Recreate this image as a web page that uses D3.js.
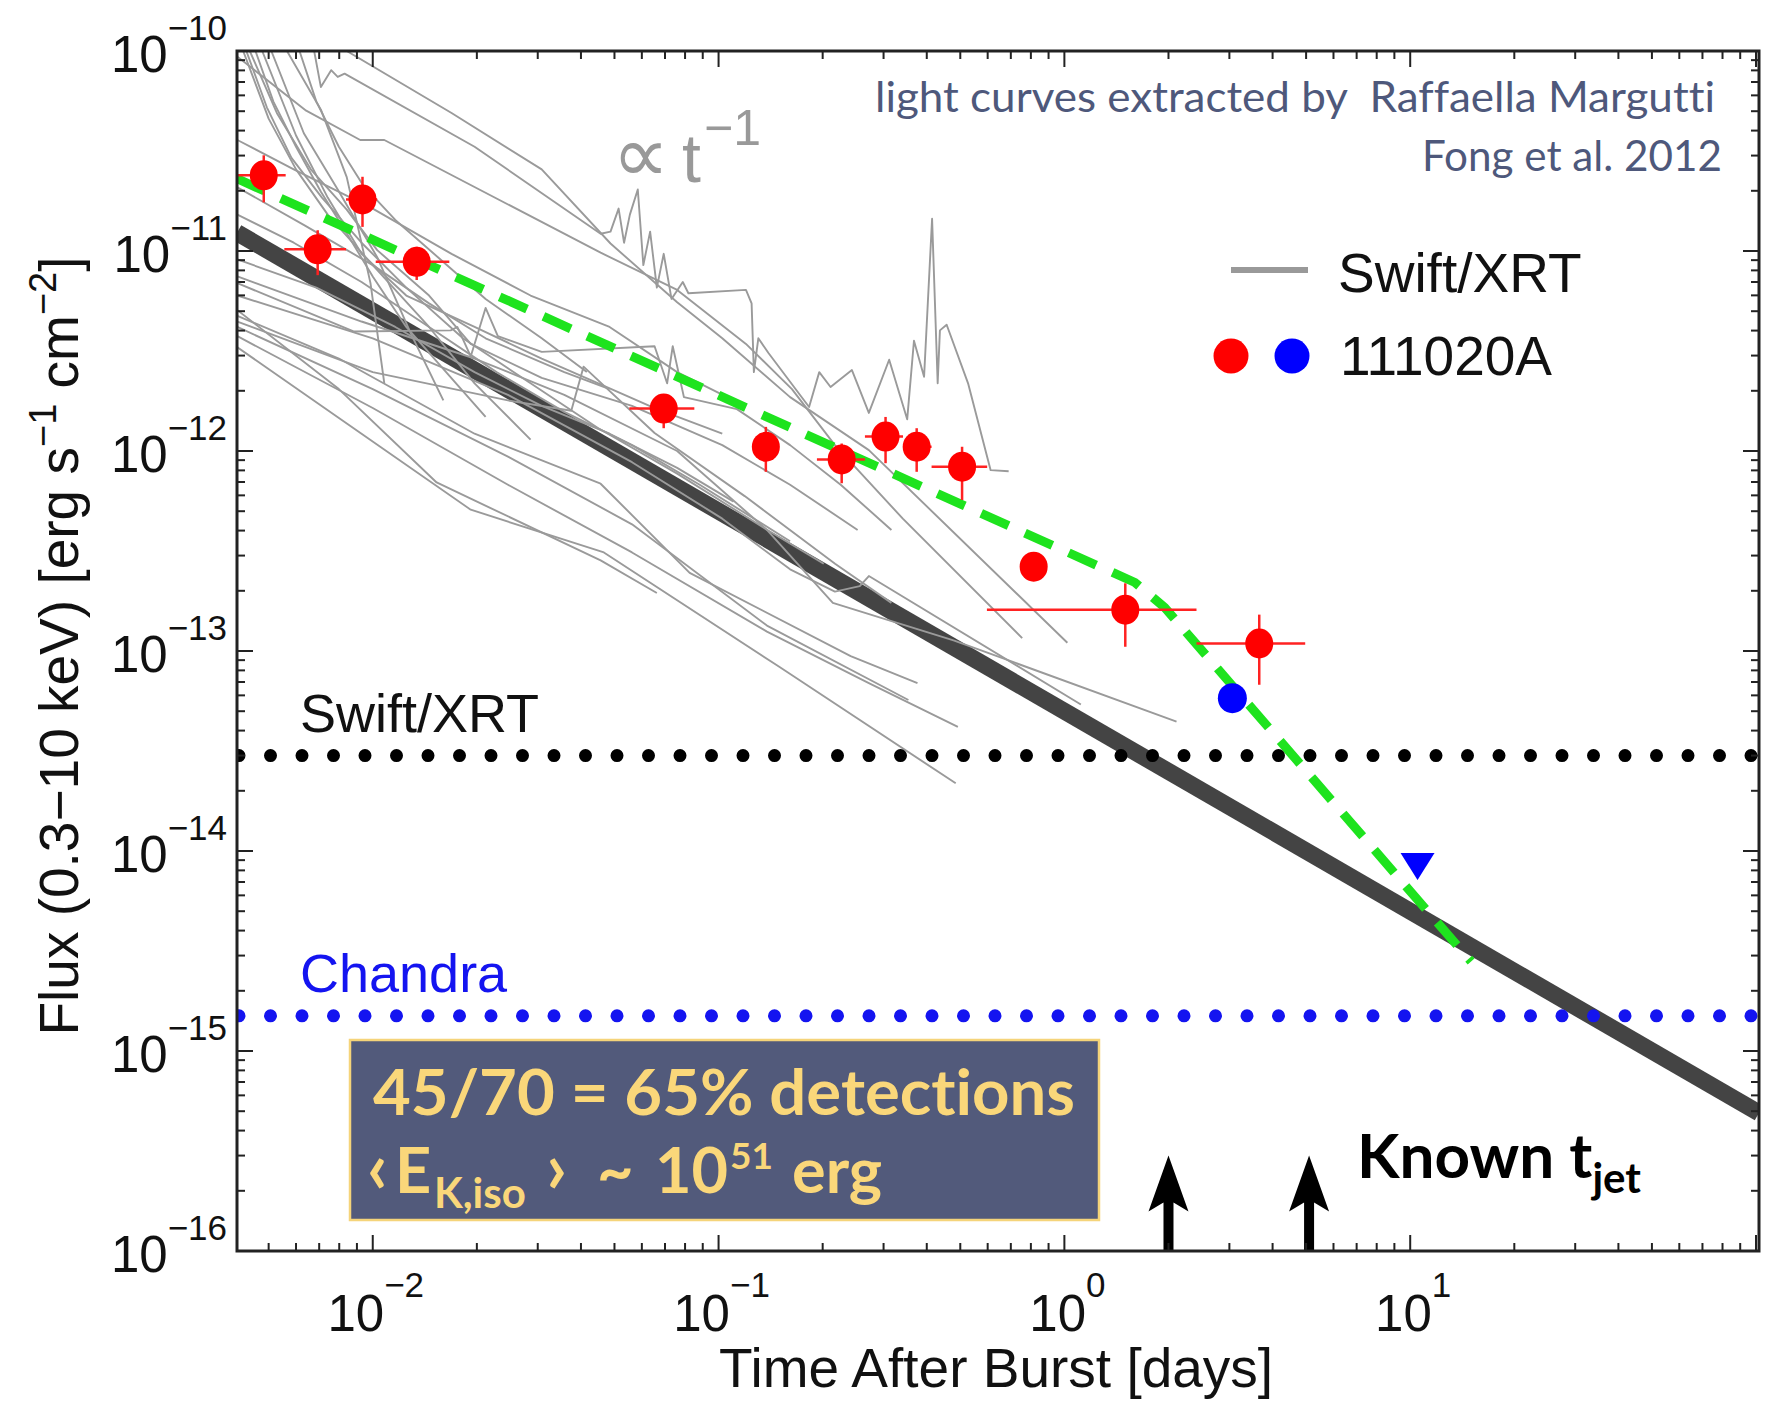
<!DOCTYPE html>
<html><head><meta charset="utf-8">
<script src="https://cdn.jsdelivr.net/npm/d3@7"></script>
<style>
html,body{margin:0;padding:0;background:#fff;}
svg{display:block;}
text{font-variant-ligatures:none;font-feature-settings:"liga" 0;}
</style></head><body>
<svg id="chart" width="1768" height="1404"></svg>
<script>
// ---------------- DATA ----------------
const xDomain = [0.00405, 102];          // days
const yDomain = [1e-16, 1e-10];          // erg s^-1 cm^-2
const xTickExponents = [-2, -1, 0, 1];
const yTickExponents = [-10, -11, -12, -13, -14, -15, -16];

// Swift/XRT light curves (time [d], flux)
const swiftCurves = [
  [[0.00406,4.74e-12],[0.00798,2.90e-12],[0.0197,1.22e-12],[0.0456,6.86e-13],[0.0825,2.46e-13],[0.241,9.43e-14],[0.376,6.91e-14]],
  [[0.00406,4.17e-12],[0.01,2.04e-12],[0.0246,9.37e-13],[0.0562,4.30e-13],[0.138,1.34e-13],[0.354,5.69e-14]],
  [[0.00406,3.75e-12],[0.01,1.64e-12],[0.0246,6.78e-13],[0.0562,3.11e-13],[0.138,1.25e-13],[0.272,6.91e-14],[0.492,4.17e-14]],
  [[0.00406,3.30e-12],[0.00928,1.22e-12],[0.0192,5.09e-13],[0.0466,3.11e-13],[0.149,8.39e-14],[0.485,2.18e-14]],
  [[0.00406,5.99e-12],[0.01,3.66e-12],[0.0246,1.91e-12],[0.0562,8.79e-13],[0.1025,4.59e-13],[0.161,2.56e-13],[0.217,1.98e-13],[0.256,2.11e-13],[0.272,2.37e-13],[1.116,5.40e-14]],
  [[0.00406,7.46e-12],[0.00928,4.44e-12],[0.0197,2.90e-12],[0.0358,1.91e-12],[0.0759,1.0e-12],[0.138,4.03e-13],[0.214,1.74e-13],[0.478,1.13e-13],[2.11,4.44e-14]],
  [[0.00406,9.37e-11],[0.00642,5.03e-11],[0.0092,3.59e-11],[0.0108,3.59e-11],[0.0456,9.81e-12],[0.0759,6.39e-12],[0.120,3.43e-12],[0.163,2.04e-12],[0.217,1.07e-12],[0.341,4.59e-13],[0.755,1.16e-13]],
  [[0.00841,1.0e-10],[0.0169,4.90e-11],[0.0308,2.56e-11],[0.0487,1.09e-11],[0.0759,5.54e-12],[0.1025,3.66e-12],[0.161,1.86e-12],[0.272,1.01e-12],[1.02,1.10e-13]],
  [[0.00677,1.0e-10],[0.00708,6.60e-11],[0.00758,8.02e-11],[0.00792,7.42e-11],[0.00829,7.71e-11],[0.0197,3.32e-11],[0.0456,1.22e-11],[0.0487,1.25e-11],[0.0514,1.63e-11],[0.0533,1.10e-11],[0.0554,1.52e-11],[0.0584,2.03e-11],[0.0606,8.50e-12],[0.0634,1.25e-11],[0.0663,6.56e-12],[0.0694,9.68e-12],[0.0731,5.76e-12],[0.0788,7.00e-12],[0.0818,6.15e-12],[0.120,6.39e-12],[0.1246,5.47e-12],[0.1265,2.48e-12],[0.1303,3.66e-12],[0.1394,3.09e-12],[0.1827,1.66e-12],[0.1955,2.48e-12],[0.2108,2.09e-12],[0.243,2.54e-12],[0.272,1.55e-12],[0.3114,2.86e-12],[0.3511,1.44e-12],[0.3673,3.56e-12],[0.3929,2.35e-12],[0.4144,1.45e-11],[0.4301,2.18e-12],[0.4366,4.01e-12],[0.4566,4.28e-12],[0.5266,2.18e-12],[0.612,8.02e-13],[0.690,7.92e-13]],
  [[0.00406,5.06e-12],[0.00798,2.04e-12],[0.0153,6.96e-13],[0.0456,2.84e-13],[0.0663,1.95e-13]],
  [[0.00565,1.0e-10],[0.00708,5.09e-11],[0.00841,2.34e-11],[0.00985,6.91e-12],[0.0108,2.18e-12]],
  [[0.00509,1.0e-10],[0.00632,3.88e-11],[0.00792,2.03e-11],[0.0103,9.31e-12],[0.0129,3.85e-12],[0.016,1.79e-12]],
  [[0.00441,1.0e-10],[0.00528,4.90e-11],[0.00662,2.56e-11],[0.00841,1.61e-11],[0.0103,1.01e-11],[0.01455,5.99e-12],[0.0192,3.43e-12],[0.0308,2.32e-12],[0.0562,1.68e-12],[0.1025,1.07e-12],[0.161,6.78e-13],[0.2524,4.03e-13]],
  [[0.00479,1.0e-10],[0.0060,3.78e-11],[0.00741,1.85e-11],[0.00928,9.68e-12],[0.0125,5.99e-12],[0.0197,4.17e-12],[0.0308,2.90e-12],[0.0449,2.18e-12],[0.0653,1.64e-12],[0.1025,1.22e-12]],
  [[0.00406,6.91e-12],[0.0088,3.96e-12],[0.0168,4.01e-12],[0.01756,4.17e-12],[0.0192,2.97e-12],[0.0212,5.19e-12],[0.023,3.75e-12],[0.0308,3.13e-12],[0.0653,3.34e-12],[0.071,2.18e-12],[0.0737,3.34e-12],[0.0794,1.86e-12],[0.113,1.62e-12],[0.161,1.07e-12],[0.2255,6.78e-13],[0.3161,4.03e-13]],
  [[0.00406,4.44e-12],[0.01,2.48e-12],[0.0246,1.79e-12],[0.0375,1.59e-12],[0.0407,2.64e-12],[0.0653,1.23e-12],[0.119,5.95e-13],[0.2172,2.73e-13],[0.3161,1.74e-13]],
  [[0.00422,1.0e-10],[0.0050,4.59e-11],[0.0060,2.56e-11],[0.00741,1.52e-11],[0.01,8.50e-12],[0.01455,4.17e-12],[0.0197,2.18e-12],[0.0286,1.14e-12]],
  [[0.00406,3.59e-11],[0.00591,2.56e-11],[0.01,1.63e-11],[0.0169,9.68e-12],[0.0286,5.99e-12],[0.0484,4.17e-12],[0.0759,2.48e-12],[0.119,1.68e-12]],
  [[0.00406,2.08e-11],[0.00637,1.34e-11],[0.01,8.50e-12],[0.01455,5.47e-12],[0.0212,3.66e-12],[0.0358,2.48e-12],[0.0484,2.04e-12]],
  [[0.00431,1e-10],[0.00494,5.23e-11],[0.00582,2.92e-11],[0.00713,1.85e-11],[0.00928,1.10e-11],[0.0125,6.56e-12],[0.01823,3.66e-12],[0.0286,2.18e-12],[0.0449,1.30e-12],[0.0759,7.71e-13],[0.1384,4.03e-13],[0.2014,2.73e-13]],
  [[0.00406,1.52e-11],[0.00591,1.10e-11],[0.00928,7.0e-12],[0.01455,4.17e-12],[0.0228,2.48e-12],[0.0358,1.57e-12],[0.0562,1.07e-12],[0.0882,6.78e-13],[0.161,3.54e-13]],
  [[0.00406,9.07e-12],[0.00687,6.56e-12],[0.01162,4.17e-12],[0.0197,2.48e-12],[0.0308,1.68e-12],[0.0484,1.22e-12],[0.0759,8.23e-13],[0.1105,5.58e-13]],
  [[0.00458,1e-10],[0.00516,5.58e-11],[0.0060,3.32e-11],[0.00708,1.98e-11],[0.00835,1.25e-11],[0.01,7.46e-12],[0.0125,4.17e-12],[0.0163,2.48e-12],[0.0212,1.48e-12]],
  [[0.00614,1e-10],[0.00687,5.58e-11],[0.00798,3.32e-11],[0.00942,2.11e-11],[0.01162,1.43e-11],[0.0157,9.07e-12],[0.0212,5.76e-12],[0.0308,3.66e-12],[0.0416,2.48e-12]]
];

// GRB 111020A detections (red)
const redT   = [0.00484, 0.00693, 0.00934, 0.0134, 0.0694, 0.137, 0.227, 0.304, 0.374, 0.506, 0.815, 1.50, 3.66];
const redF   = [2.39e-11, 1.02e-11, 1.81e-11, 8.83e-12, 1.63e-12, 1.05e-12, 9.08e-13, 1.18e-12, 1.05e-12, 8.35e-13, 2.64e-13, 1.61e-13, 1.09e-13];
const redTLo = [0.0040, 0.00555, 0.00837, 0.0102, 0.0552, 0.137, 0.1925, 0.265, 0.3415, 0.413, 0.815, 0.597, 2.41];
const redTHi = [0.0056, 0.00837, 0.0103, 0.01665, 0.0851, 0.137, 0.265, 0.3415, 0.413, 0.598, 0.815, 2.41, 4.97];
const redFLo = [1.75e-11, 7.57e-12, 1.32e-11, 7.16e-12, 1.30e-12, 7.87e-13, 6.9e-13, 8.69e-13, 7.87e-13, 5.69e-13, 2.64e-13, 1.05e-13, 6.78e-14];
const redFHi = [3.01e-11, 1.27e-11, 2.35e-11, 1.05e-11, 1.90e-12, 1.32e-12, 1.09e-12, 1.48e-12, 1.30e-12, 1.05e-12, 2.64e-13, 2.18e-13, 1.52e-13];

// Chandra (blue)
const blueDetection  = [3.06, 5.81e-14];
const blueUpperLimit = [10.5, 8.8e-15];

// models
const modelThick = [[0.00405, 1.235e-11], [102, 4.9e-16]];   // ∝ t^-1
const modelGreen = [[0.00405, 2.3e-11], [1.6, 2.2e-13], [1.95, 1.65e-13], [15, 2.8e-15]];

// sensitivity limits
const swiftLimit   = 3e-14;
const chandraLimit = 1.5e-15;

// known jet break times
const jetTimes = [2.0, 5.1];
const jetArrowTip = 3e-16;

// ---------------- DRAW ----------------
const svg = d3.select('#chart');
const L = 237, R = 1759, T = 51, B = 1251;
const x = d3.scaleLog().domain(xDomain).range([L, R]);
const y = d3.scaleLog().domain(yDomain).range([B, T]);
const HELV = "'Liberation Sans', Arial, Helvetica, sans-serif";
const GILL = "Lato, 'Open Sans', sans-serif";

svg.append('rect').attr('width', 1768).attr('height', 1404).attr('fill', '#fff');
svg.append('defs').append('clipPath').attr('id', 'pc')
  .append('rect').attr('x', L).attr('y', T).attr('width', R - L).attr('height', B - T);

const plot = svg.append('g').attr('clip-path', 'url(#pc)');
const line = d3.line().x(d => x(d[0])).y(d => y(d[1]));

// thick t^-1 line
plot.append('path').attr('d', line(modelThick))
  .attr('fill', 'none').attr('stroke', '#444').attr('stroke-width', 17);

// Swift light curves
plot.append('g').selectAll('path').data(swiftCurves).join('path')
  .attr('d', line).attr('fill', 'none').attr('stroke', '#9a9a9a')
  .attr('stroke-width', 1.9).attr('stroke-linejoin', 'round');

// green model
plot.append('path').attr('d', line(modelGreen))
  .attr('fill', 'none').attr('stroke', '#1ee31e').attr('stroke-width', 9)
  .attr('stroke-dasharray', '30 18');

// dotted limits
[[swiftLimit, '#000'], [chandraLimit, '#1414f0']].forEach(([v, c]) => {
  plot.append('line').attr('x1', L + 2).attr('x2', R).attr('y1', y(v)).attr('y2', y(v))
    .attr('stroke', c).attr('stroke-width', 13).attr('stroke-linecap', 'round')
    .attr('stroke-dasharray', '0 31.5');
});

// red error bars and points
const eb = plot.append('g').attr('stroke', '#ff2222').attr('stroke-width', 2.5);
redT.forEach((t, i) => {
  eb.append('line').attr('x1', x(redTLo[i])).attr('x2', x(redTHi[i])).attr('y1', y(redF[i])).attr('y2', y(redF[i]));
  eb.append('line').attr('x1', x(t)).attr('x2', x(t)).attr('y1', y(redFLo[i])).attr('y2', y(redFHi[i]));
});
plot.append('g').selectAll('ellipse').data(redT).join('ellipse')
  .attr('cx', d => x(d)).attr('cy', (d, i) => y(redF[i])).attr('rx', 14).attr('ry', 15).attr('fill', '#ff0000');

// blue detection and upper limit
plot.append('ellipse').attr('cx', x(blueDetection[0])).attr('cy', y(blueDetection[1]))
  .attr('rx', 14.5).attr('ry', 15).attr('fill', '#0000ff');
{
  const cx = x(blueUpperLimit[0]), cy = y(blueUpperLimit[1]);
  plot.append('path').attr('d', `M${cx - 17},${cy - 9}L${cx + 17},${cy - 9}L${cx},${cy + 18}Z`).attr('fill', '#0000ff');
}

// jet arrows
jetTimes.forEach(t => {
  const ax = x(t), yt = y(jetArrowTip), yb = y(yDomain[0]);
  svg.append('path').attr('fill', '#000')
    .attr('d', `M${ax},${yt}L${ax + 20},${yt + 56}L${ax + 5},${yt + 47}L${ax + 5},${yb}L${ax - 5},${yb}L${ax - 5},${yt + 47}L${ax - 20},${yt + 56}Z`);
});

// frame
svg.append('rect').attr('x', L).attr('y', T).attr('width', R - L).attr('height', B - T)
  .attr('fill', 'none').attr('stroke', '#222').attr('stroke-width', 3);

// ticks
const tk = svg.append('g').attr('stroke', '#222').attr('stroke-width', 2);
function minorVals(dom) {
  const out = [];
  const lo = Math.floor(Math.log10(dom[0])), hi = Math.ceil(Math.log10(dom[1]));
  for (let e = lo; e <= hi; e++) for (let k = 1; k <= 9; k++) {
    const v = k * Math.pow(10, e);
    if (v >= dom[0] && v <= dom[1]) out.push([v, k === 1]);
  }
  return out;
}
minorVals(xDomain).forEach(([v, major]) => {
  const len = major ? 16 : 8, px = x(v);
  tk.append('line').attr('x1', px).attr('x2', px).attr('y1', B).attr('y2', B - len);
  tk.append('line').attr('x1', px).attr('x2', px).attr('y1', T).attr('y2', T + len);
});
minorVals(yDomain).forEach(([v, major]) => {
  const len = major ? 16 : 8, py = y(v);
  tk.append('line').attr('x1', L).attr('x2', L + len).attr('y1', py).attr('y2', py);
  tk.append('line').attr('x1', R).attr('x2', R - len).attr('y1', py).attr('y2', py);
});

// tick labels
yTickExponents.forEach(e => {
  const t = svg.append('text').attr('x', L - 10).attr('y', y(Math.pow(10, e)) + 21)
    .attr('text-anchor', 'end').attr('font-family', HELV).attr('font-size', 51).attr('fill', '#111');
  t.append('tspan').text('10');
  t.append('tspan').attr('font-size', 35).attr('dy', -32).text('\u2212' + Math.abs(e));
});
xTickExponents.forEach(e => {
  const t = svg.append('text').attr('x', x(Math.pow(10, e)) + 3).attr('y', B + 80)
    .attr('text-anchor', 'middle').attr('font-family', HELV).attr('font-size', 51).attr('fill', '#111');
  t.append('tspan').text('10');
  t.append('tspan').attr('font-size', 35).attr('dy', -34).text(e < 0 ? '\u2212' + Math.abs(e) : String(e));
});

// axis titles
svg.append('text').attr('x', 996).attr('y', 1387).attr('text-anchor', 'middle')
  .attr('font-family', HELV).attr('font-size', 55).attr('fill', '#111').text('Time After Burst [days]');
{
  const yt = svg.append('text').attr('transform', 'translate(78,646) rotate(-90)')
    .attr('text-anchor', 'middle').attr('font-family', HELV).attr('font-size', 55).attr('fill', '#111');
  yt.append('tspan').text('Flux (0.3\u221210 keV) [erg s');
  yt.append('tspan').attr('font-size', 38).attr('dy', -22).text('\u22121');
  yt.append('tspan').attr('dy', 22).text(' cm');
  yt.append('tspan').attr('font-size', 38).attr('dy', -22).text('\u22122');
  yt.append('tspan').attr('dy', 22).text(']');
}

// limit labels
svg.append('text').attr('x', 300).attr('y', 732).attr('font-family', HELV).attr('font-size', 54)
  .attr('fill', '#111').text('Swift/XRT');
svg.append('text').attr('x', 300).attr('y', 992).attr('font-family', HELV).attr('font-size', 54)
  .attr('fill', '#1414f0').text('Chandra');

// proportional label
{
  const p = svg.append('text').attr('fill', '#999').attr('font-family', HELV);
  p.append('tspan').attr('x', 612).attr('y', 182).attr('font-family', "'DejaVu Sans', sans-serif").attr('font-size', 80).text('\u221D');
  p.append('tspan').attr('x', 682).attr('y', 182).attr('font-size', 68).text('t');
  p.append('tspan').attr('x', 704).attr('y', 145).attr('font-size', 50).text('\u22121');
}

// legend
svg.append('line').attr('x1', 1231).attr('x2', 1308).attr('y1', 270).attr('y2', 270)
  .attr('stroke', '#999').attr('stroke-width', 6);
svg.append('text').attr('x', 1338).attr('y', 292).attr('font-family', HELV).attr('font-size', 55)
  .attr('fill', '#111').text('Swift/XRT');
svg.append('ellipse').attr('cx', 1231).attr('cy', 356).attr('rx', 17.5).attr('ry', 17.5).attr('fill', '#ff0000');
svg.append('ellipse').attr('cx', 1292).attr('cy', 356).attr('rx', 17.5).attr('ry', 17.5).attr('fill', '#0000ff');
svg.append('text').attr('x', 1340).attr('y', 375).attr('font-family', HELV).attr('font-size', 55)
  .attr('fill', '#111').text('111020A');

// credits
svg.append('text').attr('x', 875).attr('y', 112).attr('font-family', GILL).attr('font-size', 42)
  .attr('fill', '#4e587b').attr('textLength', 840).attr('lengthAdjust', 'spacingAndGlyphs')
  .style('white-space', 'pre').text('light curves extracted by  Raffaella Margutti');
svg.append('text').attr('x', 1422).attr('y', 171).attr('font-family', GILL).attr('font-size', 42)
  .attr('fill', '#4e587b').attr('textLength', 300).attr('lengthAdjust', 'spacingAndGlyphs')
  .text('Fong et al. 2012');

// info box
svg.append('rect').attr('x', 350).attr('y', 1040).attr('width', 749).attr('height', 180)
  .attr('fill', '#525a7b').attr('stroke', '#f5d47a').attr('stroke-width', 2.5);
svg.append('text').attr('x', 373).attr('y', 1115).attr('font-family', GILL).attr('font-weight', 700)
  .attr('font-size', 64).attr('fill', '#fad77a').attr('textLength', 702).attr('lengthAdjust', 'spacingAndGlyphs')
  .text('45/70 = 65% detections');
{
  const t2 = svg.append('text').attr('y', 1193).attr('font-family', GILL).attr('font-weight', 700)
    .attr('font-size', 63).attr('fill', '#fad77a');
  t2.append('tspan').attr('x', 367).attr('font-size', 72).text('\u2039');
  t2.append('tspan').attr('x', 395).text('E');
  t2.append('tspan').attr('x', 434).attr('dy', 15).attr('font-size', 42).text('K,iso');
  t2.append('tspan').attr('x', 546).attr('dy', -15).attr('font-size', 72).text('\u203A');
  t2.append('tspan').attr('x', 597).text('~');
  t2.append('tspan').attr('x', 655).text('10');
  t2.append('tspan').attr('x', 730).attr('dy', -24).attr('font-size', 37).text('51');
  t2.append('tspan').attr('x', 792).attr('dy', 24).text('erg');
}

// Known t_jet
{
  const k = svg.append('text').attr('x', 1357).attr('y', 1178).attr('font-family', GILL)
    .attr('font-weight', 700).attr('font-size', 62).attr('fill', '#000');
  k.append('tspan').text('Known t');
  k.append('tspan').attr('dy', 15).attr('font-size', 42).text('jet');
}
</script>
</body></html>
